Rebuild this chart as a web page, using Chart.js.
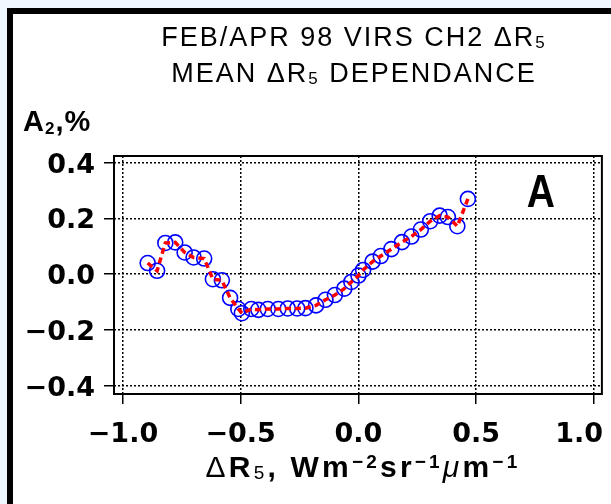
<!DOCTYPE html>
<html><head><meta charset="utf-8">
<script src="https://cdn.jsdelivr.net/npm/chart.js@4"></script>
<style>html,body{margin:0;padding:0;background:#f0f8ff;overflow:hidden}
#wrap{position:absolute;left:0;top:0;width:611px;height:504px}</style>
</head><body><div id="wrap"><canvas id="c" width="611" height="504"></canvas></div>
<script>
// ---- data ----
const xValues = [-0.895,-0.855,-0.820,-0.778,-0.738,-0.700,-0.655,-0.618,-0.580,-0.545,-0.510,-0.495,-0.455,-0.425,-0.385,-0.340,-0.300,-0.260,-0.225,-0.180,-0.140,-0.100,-0.060,-0.030,0.000,0.020,0.060,0.095,0.140,0.185,0.225,0.265,0.305,0.345,0.380,0.420,0.465];
const yValues = [0.040,0.012,0.112,0.114,0.078,0.060,0.056,-0.018,-0.022,-0.085,-0.125,-0.140,-0.125,-0.128,-0.125,-0.125,-0.123,-0.123,-0.122,-0.112,-0.092,-0.075,-0.052,-0.028,-0.005,0.015,0.045,0.065,0.090,0.115,0.135,0.160,0.190,0.210,0.205,0.172,0.270];
const xTicks = [-1.0,-0.5,0.0,0.5,1.0];
const xTickLabels = ['\u22121.0','\u22120.5','0.0','0.5','1.0'];
const yTicks = [-0.4,-0.2,0.0,0.2,0.4];
const yTickLabels = ['\u22120.4','\u22120.2','0.0','0.2','0.4'];
const titleLines = [['FEB/APR 98 VIRS CH2 \u0394R','5',''],['MEAN \u0394R','5',' DEPENDANCE']];
const panelLabel = 'A';

const points = xValues.map((x,i)=>({x:x,y:yValues[i]}));
const LS='"Liberation Sans", Arial, sans-serif';

let lsInMeasure = null;
function textW(ctx,t,ls){
  if(lsInMeasure===null){
    ctx.save(); ctx.font='20px '+LS; ctx.letterSpacing='0px'; const a=ctx.measureText('AB').width;
    ctx.letterSpacing='10px'; const b=ctx.measureText('AB').width; ctx.restore();
    lsInMeasure = (b-a)>5;
  }
  const w=ctx.measureText(t).width;
  return lsInMeasure? w : w + ls*[...t].length;
}
function drawRuns(ctx, runs, cx, y, align, ls){
  ls = ls||0;
  ctx.letterSpacing = ls+'px';
  let w=0;
  runs.forEach(r=>{ctx.font=r.f; w+=textW(ctx,r.t,ls);});
  let x = align==='left'?cx:cx-w/2;
  ctx.textAlign='left'; ctx.textBaseline='alphabetic';
  runs.forEach(r=>{ctx.font=r.f; ctx.fillText(r.t,x,y+(r.dy||0)); x+=textW(ctx,r.t,ls);});
  ctx.letterSpacing='0px';
}

// keep the last x tick label inside the frame, as in the reference
const shiftLastLabel = {
  id:'shiftLastLabel',
  afterUpdate(chart){
    const s=chart.scales.x;
    const items = s._labelItems || (s._labelItems = s._computeLabelItems(chart.chartArea));
    if(items && items.length){
      const last=items[items.length-1];
      const w = chart.ctx.measureText ? (()=>{chart.ctx.save();chart.ctx.font='bold 27px "DejaVu Sans"';const m=chart.ctx.measureText(xTickLabels[xTickLabels.length-1]).width;chart.ctx.restore();return m;})() : 0;
      const maxRight = chart.width-8;
      if(last.options && last.options.translation){
        const tx=last.options.translation[0];
        if(tx + w/2 > maxRight) last.options.translation[0] = maxRight - w/2;
      }
    }
  }
};

const decor = {
  id:'decor',
  beforeDraw(chart){
    const ctx=chart.ctx, W=chart.width, H=chart.height;
    ctx.save();
    ctx.fillStyle='#f0f8ff'; ctx.fillRect(0,0,W,H);
    ctx.fillStyle='#ffffff'; ctx.fillRect(13,14,W,H);
    ctx.fillStyle='#000000'; ctx.fillRect(7,8,6,H); ctx.fillRect(7,8,W,6);
    ctx.restore();
  },
  beforeDatasetsDraw(chart){
    const ctx=chart.ctx, a=chart.chartArea;
    ctx.save(); ctx.strokeStyle='#000'; ctx.lineWidth=2;
    ctx.strokeRect(a.left,a.top,a.right-a.left,a.bottom-a.top);
    ctx.restore();
  },
  afterDraw(chart){
    const ctx=chart.ctx;
    ctx.save(); ctx.fillStyle='#000';
    const big='27px '+LS, sm='17px '+LS;
    drawRuns(ctx,[{t:titleLines[0][0],f:big},{t:titleLines[0][1],f:sm,dy:2},{t:titleLines[0][2],f:big}],354,46,'center',2);
    drawRuns(ctx,[{t:titleLines[1][0],f:big},{t:titleLines[1][1],f:sm,dy:2},{t:titleLines[1][2],f:big}],354,82,'center',2);
    const B='bold 29px '+LS, Bs='bold 17px '+LS;
    drawRuns(ctx,[{t:'A',f:B},{t:'2',f:Bs,dy:3},{t:',%',f:B}],23,131,'left',1);
    const XB='bold 30px '+LS, XR='30px '+LS, XS='bold 19px '+LS, XRs='19px '+LS;
    drawRuns(ctx,[{t:'\u0394',f:XR},{t:'R',f:XB},{t:'5',f:XRs,dy:2},{t:', ',f:XB},{t:'Wm',f:XB},
      {t:'\u22122',f:XS,dy:-9},{t:'sr',f:XB},{t:'\u22121',f:XS,dy:-9},{t:'\u03bc',f:'italic 30px '+LS},{t:'m',f:XB},{t:'\u22121',f:XS,dy:-9}],363,477,'center',3.2);
    const xs=chart.scales.x, ys=chart.scales.y;
    ctx.save();
    ctx.translate(xs.getPixelForValue(0.775), ys.getPixelForValue(0.24));
    ctx.scale(0.85,1);
    ctx.font='bold 46px '+LS; ctx.textAlign='center'; ctx.textBaseline='alphabetic';
    ctx.fillText(panelLabel, 0, 0);
    ctx.restore();
    ctx.restore();
  }
};

const tickFont={family:'"DejaVu Sans", sans-serif',size:27,weight:'bold'};
const gridOpts={color:'#000',lineWidth:1.5,tickLength:10,tickColor:'#000',tickWidth:1.5,tickBorderDash:[],borderDash:[2,2]};
new Chart(document.getElementById('c'),{
  type:'scatter',
  data:{datasets:[
    {label:'mean',data:points,showLine:true,borderColor:'#ff0000',borderWidth:3.5,borderDash:[6,4],pointRadius:0,fill:false,tension:0},
    {label:'A2',data:points,showLine:false,pointStyle:'circle',pointRadius:7.5,pointBorderWidth:1.6,borderColor:'#0000ff',backgroundColor:'rgba(0,0,0,0)',pointBackgroundColor:'rgba(0,0,0,0)'}
  ]},
  plugins:[decor,shiftLastLabel],
  options:{
    responsive:false,animation:false,devicePixelRatio:1,
    layout:{padding:{top:156,right:8,left:0,bottom:0}},
    plugins:{legend:{display:false},tooltip:{enabled:false},title:{display:false}},
    scales:{
      x:{type:'linear',min:-1.038,max:1.034,
        afterBuildTicks(s){s.ticks=xTicks.map(v=>({value:v}));},
        afterFit(s){s.height=110; s.paddingLeft=0; s.paddingRight=0;},
        ticks:{font:tickFont,color:'#000',padding:15,maxRotation:0,autoSkip:false,
          callback(v){const i=xTicks.findIndex(t=>Math.abs(t-v)<1e-6);return i>=0?xTickLabels[i]:'';}},
        grid:gridOpts,
        border:{display:false,dash:[2,2]}},
      y:{type:'linear',min:-0.43,max:0.424,
        afterBuildTicks(s){s.ticks=yTicks.map(v=>({value:v}));},
        afterFit(s){s.width=114; s.paddingTop=0; s.paddingBottom=0;},
        ticks:{font:tickFont,color:'#000',padding:9,labelOffset:3,autoSkip:false,
          callback(v){const i=yTicks.findIndex(t=>Math.abs(t-v)<1e-6);return i>=0?yTickLabels[i]:'';}},
        grid:gridOpts,
        border:{display:false,dash:[2,2]}}
    }
  }
});
</script></body></html>
